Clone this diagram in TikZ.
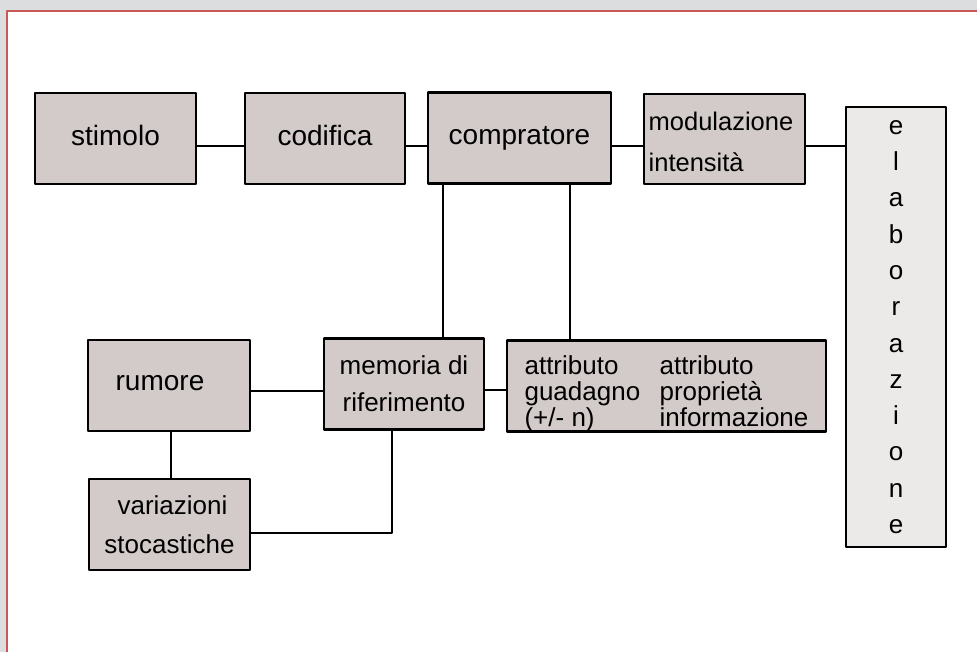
\documentclass[tikz,border=0pt]{standalone}
\usepackage{fontspec}
\setmainfont{Liberation Sans}
\definecolor{boxgray}{RGB}{211,203,201}
\definecolor{elabgray}{RGB}{236,234,232}
\definecolor{framegray}{RGB}{220,221,223}
\definecolor{framered}{RGB}{200,88,88}
\begin{document}
\begin{tikzpicture}[x=1pt, y=-1pt, line join=round, line cap=round,
		blk/.style={draw, line width=2.6pt, fill=boxgray, inner sep=0pt, minimum height=91pt, font=\fontsize{28}{37}\selectfont},
		oneline/.style={blk, text height=20pt, text depth=6pt},
		blk2/.style={blk, align=center, font=\fontsize{26}{38}\selectfont},
		wire/.style={line width=2pt}]
			\useasboundingbox (0,0) rectangle (977,652);
			\fill[framegray] (0,0) rectangle (977,652);
			\fill[white] (7,11) rectangle (977,652);
			\draw[framered, line width=2pt, line cap=butt] (7,652)--(7,11)--(977,11);
			% riga superiore
			\node[oneline, minimum width=161pt] (stimolo) at (115.5,138.5) {stimolo};
			\node[oneline, minimum width=160pt] (codifica) at (325,138.5) {codifica};
			\node[oneline, minimum width=183pt] (compratore) at (519.5,138) {compratore};
			\node[blk, minimum width=161pt, minimum height=90pt, text height=10pt, text depth=26pt, font=\fontsize{25.5}{41}\selectfont] (modulazione) at (724.5,139) {\begin{tabular}[t]{@{}l@{\hspace{7pt}}}modulazione\\intensità\end{tabular}};
			\node[blk2, fill=elabgray, minimum width=100pt, minimum height=440pt, font=\fontsize{26}{36.3}\selectfont] (elaborazione) at (896,327) {e\\l\\a\\b\\o\\r\\a\\z\\i\\o\\n\\e};
			% riga centrale
			\node[oneline, minimum width=162pt, text height=18pt, text depth=9pt] (rumore) at (169,385.5) {\hspace*{-18pt}rumore};
			\node[blk2, minimum width=160pt, font=\fontsize{26}{37}\selectfont] (memoria) at (404,384) {memoria di\\riferimento};
			\node[blk, minimum width=319pt, text height=10pt, text depth=34pt, font=\fontsize{26}{24}\selectfont] (attributo) at (666.5,386) {\begin{tabular}[t]{@{}p{135pt}@{}l@{}}attributo & attributo\\guadagno & proprietà\\(+/- n) & informazione\end{tabular}};
			% riga inferiore
			\node[blk2, minimum width=161pt, font=\fontsize{26}{39}\selectfont] (variazioni) at (169.5,524.5) {\hspace*{6pt}variazioni\\stocastiche};
			% collegamenti
			\draw[wire] ([yshift=-7.5pt]stimolo.east) -- ([yshift=-7.5pt]stimolo.east -| codifica.west);
			\draw[wire] ([yshift=-7.5pt]codifica.east) -- ([yshift=-7.5pt]codifica.east -| compratore.west);
			\draw[wire] ([yshift=-8pt]compratore.east) -- ([yshift=-8pt]compratore.east -| modulazione.west);
			\draw[wire] ([yshift=-7pt]modulazione.east) -- ([yshift=-7pt]modulazione.east -| elaborazione.west);
			\draw[wire] ([xshift=39pt]memoria.north) -- ([xshift=39pt]memoria.north |- compratore.south);
			\draw[wire] ([xshift=50pt]compratore.south) -- ([xshift=50pt]compratore.south |- attributo.north);
			\draw[wire] ([yshift=-5.5pt]rumore.east) -- ([yshift=-5.5pt]rumore.east -| memoria.west);
			\draw[wire] ([yshift=-5.5pt]memoria.east) -- ([yshift=-5.5pt]memoria.east -| attributo.west);
			\draw[wire] ([xshift=2pt]rumore.south) -- ([xshift=2pt]rumore.south |- variazioni.north);
			\draw[wire] ([xshift=-12pt]memoria.south) |- ([yshift=-8.5pt]variazioni.east);
		\end{tikzpicture}
\end{document}
